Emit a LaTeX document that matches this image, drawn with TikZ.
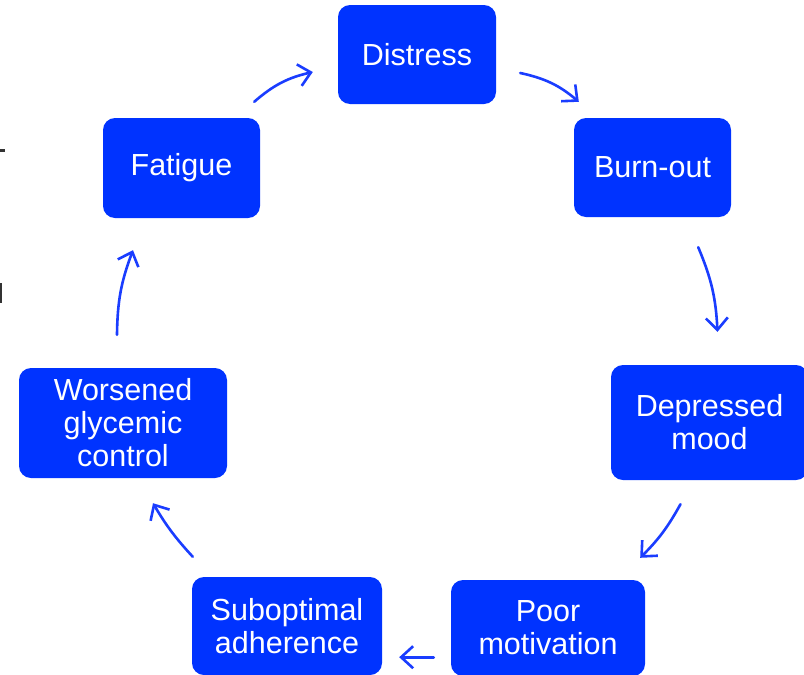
\documentclass[tikz,border=0pt]{standalone}
\usepackage{fontspec}
\setmainfont{Liberation Sans}
\usetikzlibrary{arrows.meta,calc}
\definecolor{boxblue}{HTML}{0033FF}
\definecolor{arrblue}{HTML}{1A3DFF}
\definecolor{edgegray}{HTML}{333333}
\tikzset{
  stepbox/.style={rectangle, rounded corners=12pt, fill=boxblue, text=white,
    inner sep=0pt, align=center, font=\fontsize{30.5}{33}\selectfont},
  arr/.style={draw=arrblue, line width=2.6pt, line cap=round,
    -{Straight Barb[length=12pt,width=22pt,line width=2.6pt]}},
}
\begin{document}
\begin{tikzpicture}[x=1pt,y=-1pt]
\clip (0,0) rectangle (804,675);
\fill[white] (0,0) rectangle (804,675);
% cut-off marks at left edge
\fill[edgegray] (0,148.5) rectangle (4.5,151.5);
\fill[edgegray] (0,283) rectangle (2,303);

\node[stepbox, minimum width=158pt, minimum height=99pt] (distress) at (417,54.5) {Distress};
\node[stepbox, minimum width=157pt, minimum height=99pt] (burnout) at (652.5,167.5) {Burn-out};
\node[stepbox, minimum width=197pt, minimum height=115pt] (depressed) at (709.5,422.5) {Depressed\\mood};
\node[stepbox, minimum width=194pt, minimum height=96pt] (poor) at (548,628) {Poor\\motivation};
\node[stepbox, minimum width=190pt, minimum height=98pt] (subopt) at (287,626) {Suboptimal\\adherence};
\node[stepbox, minimum width=208pt, minimum height=110pt] (worsened) at (123,423) {Worsened\\glycemic\\control};
\node[stepbox, minimum width=157pt, minimum height=100pt] (fatigue) at (181.5,168) {Fatigue};

\draw[arr] ($(fatigue.north east)+(-6,-16)$) to[bend left=14] ($(distress.west)+(-25,17.5)$);
\draw[arr] ($(distress.east)+(24,18.5)$) to[bend left=14] ($(burnout.north west)+(5,-16)$);
\draw[arr] ($(burnout.south east)+(-33,30)$) to[bend left=10] ($(depressed.north)+(8,-33)$);
\draw[arr] ($(depressed.south)+(-29,24)$) to[bend left=8] ($(poor.north east)+(-5,-22)$);
\draw[arr] ($(poor.south west)+(-17,-19)$) -- ($(subopt.south east)+(17,-18)$);
\draw[arr] ($(subopt.north west)+(1,-20)$) to[bend left=6] ($(worsened.south)+(30,25)$);
\draw[arr] ($(worsened.north)+(-6,-33)$) to[bend left=10] ($(fatigue.south)+(-48.5,32)$);
\end{tikzpicture}
\end{document}
